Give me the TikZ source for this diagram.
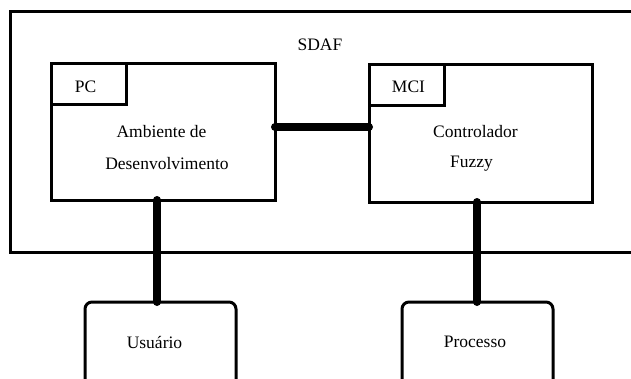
\documentclass[tikz,border=0pt]{standalone}
\usepackage{fontspec}
\setmainfont{Liberation Serif}
\begin{document}
\begin{tikzpicture}[x=1pt,y=-1pt,
  box/.style={draw=black,line width=3pt,fill=white},
  rbox/.style={draw=black,line width=3pt,rounded corners=7pt,fill=white},
  link/.style={line width=8pt,line cap=round},
  lbl/.style={font=\fontsize{17.5}{20}\selectfont,inner sep=0pt}]
\useasboundingbox (0,0) rectangle (631,378);
\clip (0,0) rectangle (631,378);
\fill[white] (0,0) rectangle (631,378);
% outer SDAF box
\draw[line width=3pt] (10,11) rectangle (650,252);
\node[lbl] (sdaf) at (320,45) {SDAF};
% PC box
\draw[box] (51,63) rectangle (275,200);
\draw[line width=3pt] (51,104) -- (126,104) -- (126,63);
\node[lbl] (pc) at (85.5,87) {PC};
\node[lbl] (amb1) at (161.5,132) {Ambiente de};
\node[lbl] (amb2) at (167,164) {Desenvolvimento};
% MCI box
\draw[box] (369,64) rectangle (592,202);
\draw[line width=3pt] (369,105) -- (444,105) -- (444,64);
\node[lbl] (mci) at (408.5,87) {MCI};
\node[lbl] (ctl1) at (475.5,132) {Controlador};
\node[lbl] (ctl2) at (471.5,164) {Fuzzy};
% connection points
\coordinate (pcR) at (275,127);
\coordinate (mciL) at (369,127);
\coordinate (pcB) at (157,200);
\coordinate (mciB) at (477,202);
% lower boxes
\draw[rbox] (85,302) rectangle (236,395);
\node[lbl] (usu) at (154.5,342) {Usuário};
\draw[rbox] (402,302) rectangle (553,395);
\node[lbl] (proc) at (475,342) {Processo};
\coordinate (usuT) at (157,302);
\coordinate (procT) at (477,302);
% thick links
\draw[link] (pcR) -- (mciL);
\draw[link] (pcB) -- (usuT);
\draw[link] (mciB) -- (procT);
\end{tikzpicture}
\end{document}
